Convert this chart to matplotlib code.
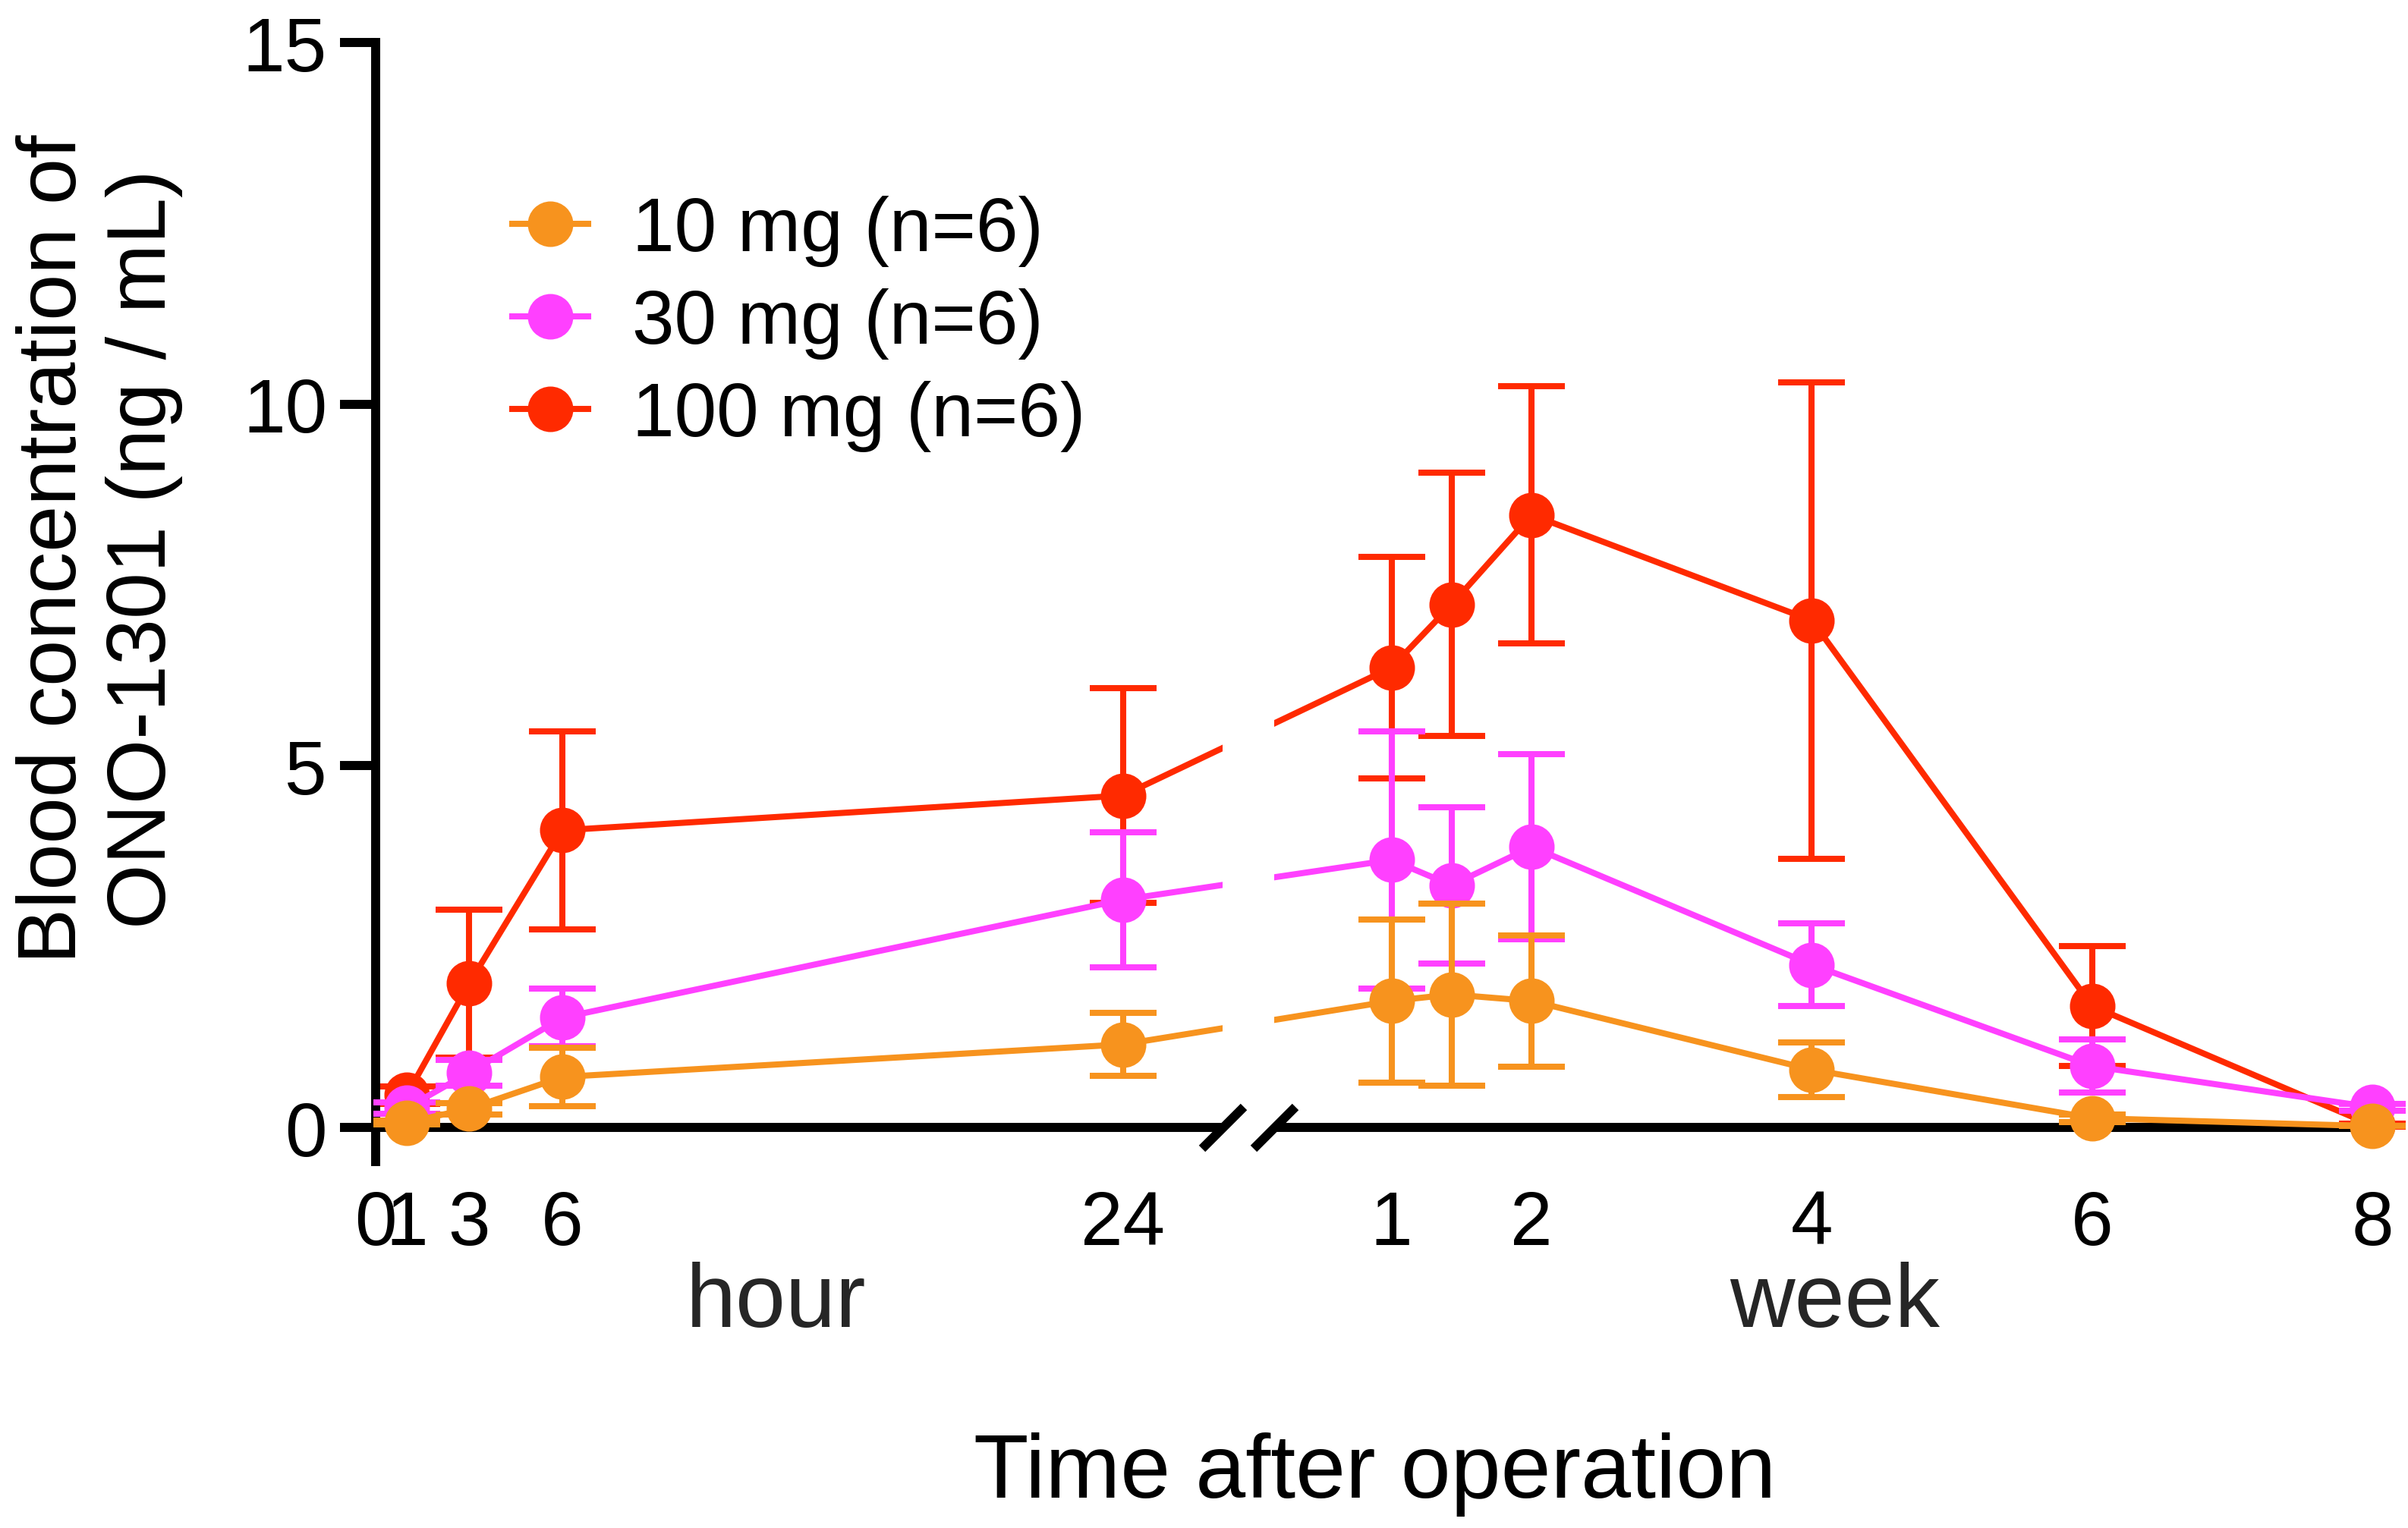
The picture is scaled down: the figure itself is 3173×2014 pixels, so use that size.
import numpy as np
import matplotlib
matplotlib.use("Agg")
import matplotlib.pyplot as plt
from matplotlib.patches import Rectangle

plt.rcParams['font.family'] = ['Liberation Sans', 'DejaVu Sans']

# sampling times in hours (1 week = 168 h)
hours = [1, 3, 6, 24, 168, 240, 336, 672, 1008, 1344]

mean_10 = [0.07, 0.26, 0.70, 1.15, 1.75, 1.84, 1.75, 0.80, 0.13, 0.02]
sd_10 = [0.03, 0.08, 0.40, 0.44, 1.13, 1.26, 0.91, 0.38, 0.05, 0.0]
mean_30 = [0.27, 0.76, 1.52, 3.15, 3.70, 3.35, 3.88, 2.25, 0.85, 0.28]
sd_30 = [0.08, 0.18, 0.40, 0.93, 1.78, 1.08, 1.28, 0.57, 0.37, 0.05]
mean_100 = [0.45, 1.99, 4.11, 4.59, 6.36, 7.23, 8.47, 7.01, 1.68, 0.03]
sd_100 = [0.12, 1.02, 1.37, 1.48, 1.53, 1.82, 1.78, 3.29, 0.83, 0.02]

labels = ['10 mg (n=6)', '30 mg (n=6)', '100 mg (n=6)']
colors = ['#F7931E', '#FF40FF', '#FF2A00']

hour_ticks = [0, 1, 3, 6, 24]
week_ticks = [1, 2, 4, 6, 8]
y_ticks = [0, 5, 10, 15]

# broken time axis: hours stretched on the left, weeks on the right
HB = 27.2
def fwd(h):
    h = np.asarray(h, dtype=float)
    return np.where(h <= HB, h / 4.5, 6.25 + h / 168.0)

def inv(p):
    p = np.asarray(p, dtype=float)
    lo = HB / 4.5
    hi = 6.25 + HB / 168.0
    return np.where(p <= lo, p * 4.5, np.where(p >= hi, (p - 6.25) * 168.0, HB))

fig = plt.figure(figsize=(15.865, 10.075), dpi=200)
ax = fig.add_axes([0.156, 0.2397, 0.8292, 0.732])
ax.set_xscale('function', functions=(fwd, inv))
ax.set_xlim(0, 1344)
ax.set_ylim(-0.47, 15)

LW = 2.9
data = [(mean_10, sd_10), (mean_30, sd_30), (mean_100, sd_100)]
zorders = [4, 3, 2]  # 10 mg drawn on top, 100 mg at the back
handles = []
for i, (m, s) in enumerate(data):
    c = colors[i]
    z = zorders[i]
    ax.errorbar(hours, m, yerr=s, fmt='none', ecolor=c, elinewidth=LW,
                capsize=16, capthick=LW, clip_on=False, zorder=z)
    ln, = ax.plot(hours, m, color=c, lw=LW, marker='o', ms=21.6, mew=0,
                  clip_on=False, zorder=z, label=labels[i])
    handles.append(ln)

# gap of the axis break
scaled = ax.transLimits + ax.transAxes
g0 = float(fwd(HB))
g1 = 6.25 + HB / 168.0
ax.add_patch(Rectangle((g0, -0.12), g1 - g0, 16, transform=scaled,
                       facecolor='white', edgecolor='none', zorder=5, clip_on=False))
for gx in (g0, g1):
    ax.plot([gx], [0], transform=scaled, marker=[(-1, -1), (1, 1)], ms=19.8,
            mew=4.3, color='black', mfc='none', clip_on=False, zorder=6)

for sp in ['top', 'right']:
    ax.spines[sp].set_visible(False)
ax.spines['bottom'].set_position(('data', 0))
ax.spines['left'].set_linewidth(4.3)
ax.spines['bottom'].set_linewidth(4.3)

xt = list(hour_ticks) + [w * 168 for w in week_ticks]
xl = [str(v) for v in hour_ticks] + [str(v) for v in week_ticks]
ax.set_xticks(xt)
ax.set_xticklabels(xl)
ax.minorticks_off()
ax.set_yticks(y_ticks)
ax.tick_params(axis='x', length=0, pad=29, labelsize=36)
ax.tick_params(axis='y', length=17, width=4.3, pad=6, labelsize=36)

ax.legend(handles=handles, loc='upper left', bbox_to_anchor=(0.0684, 0.864),
          frameon=False, fontsize=36, handlelength=1.0, handletextpad=0.58,
          labelspacing=0.28, borderpad=0, borderaxespad=0)

fig.text(0.0413, 0.6407, 'Blood concentration of\nONO-1301 (ng / mL)', rotation=90,
         ha='center', va='center', multialignment='center', fontsize=39.5)
fig.text(0.3224, 0.132, 'hour', ha='center', va='baseline', fontsize=42.7, color='#262626')
fig.text(0.762, 0.132, 'week', ha='center', va='baseline', fontsize=42.7, color='#262626')
fig.text(0.5708, 0.0203, 'Time after operation', ha='center', va='baseline', fontsize=42.7)

fig.savefig('out.png', dpi=200)
